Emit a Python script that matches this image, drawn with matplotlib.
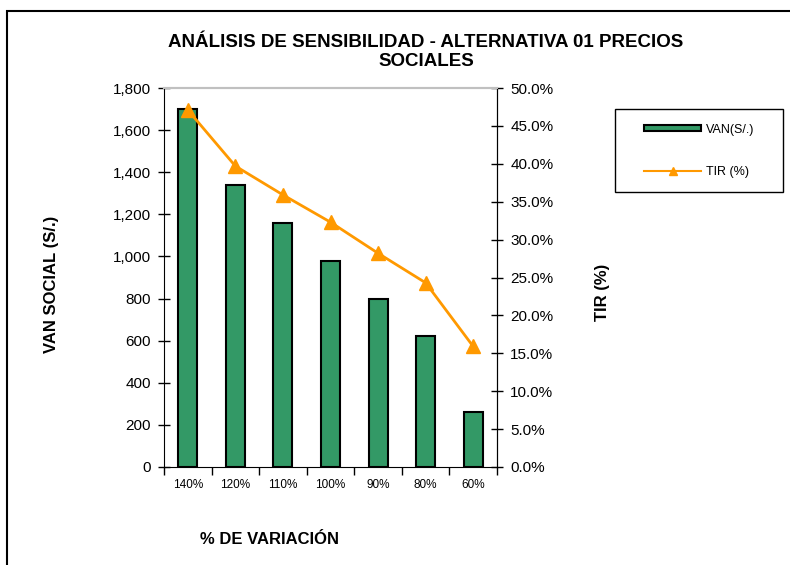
import matplotlib
matplotlib.use("Agg")
import matplotlib.pyplot as plt
from matplotlib.patches import Patch, Rectangle
from matplotlib.lines import Line2D
from matplotlib.ticker import FuncFormatter, MultipleLocator

plt.rcParams['font.family'] = ['Liberation Sans', 'DejaVu Sans']

variacion = ["140%", "120%", "110%", "100%", "90%", "80%", "60%"]
van_social = [1700, 1340, 1160, 980, 800, 620, 260]
tir = [47.1, 39.7, 35.9, 32.3, 28.2, 24.3, 15.9]

GREEN = "#339966"
ORANGE = "#FF9900"

W, H = 790, 565
fig = plt.figure(figsize=(W / 100, H / 100), dpi=100)
ax = fig.add_axes([164 / W, 1 - 467 / H, 333 / W, 379 / H])
ax2 = ax.twinx()

x = list(range(len(variacion)))
ax.bar(x, van_social, width=0.4, color=GREEN, edgecolor="black", linewidth=1.5, zorder=2)
ax2.plot(x, tir, color=ORANGE, linewidth=2, marker="^", markersize=10, zorder=3)

ax.set_xlim(-0.5, len(variacion) - 0.5)
ax.set_ylim(0, 1800)
ax2.set_ylim(0, 50)
ax.yaxis.set_major_locator(MultipleLocator(200))
ax2.yaxis.set_major_locator(MultipleLocator(5))
ax.yaxis.set_major_formatter(FuncFormatter(lambda v, p: f"{v:,.0f}"))
ax2.yaxis.set_major_formatter(FuncFormatter(lambda v, p: f"{v:.1f}%"))

# category ticks sit between the bars
ax.set_xticks([i - 0.5 for i in range(len(variacion) + 1)])
ax.set_xticklabels([])
ax.set_xticks(x, minor=True)
ax.set_xticklabels(variacion, minor=True, fontsize=8.5)
ax.tick_params(axis="x", which="minor", length=0, pad=9)
ax.tick_params(axis="x", which="major", length=6, direction="out", width=1)
ax.tick_params(axis="y", direction="inout", length=9, width=1, labelsize=11, pad=5)
ax2.tick_params(axis="y", direction="inout", length=9, width=1, labelsize=11, pad=5)

for a in (ax, ax2):
    a.spines["top"].set_color("#c0c0c0")
    a.spines["top"].set_linewidth(1.5)
ax2.spines["left"].set_visible(False)
ax2.spines["bottom"].set_visible(False)

ax.set_ylabel("VAN SOCIAL (S/.)", fontsize=12, fontweight="bold")
ax.yaxis.set_label_coords((52 - 164) / 333, (467 - 284) / 379)
ax2.set_ylabel("TIR (%)", fontsize=12, fontweight="bold")
ax2.yaxis.set_label_coords((603 - 164) / 333, (467 - 292) / 379)
ax.set_xlabel("% DE VARIACIÓN", fontsize=12, fontweight="bold")
ax.xaxis.set_label_coords((270 - 164) / 333, (467 - 540) / 379)
ax.xaxis.label.set_va("center")
ax.yaxis.label.set_va("center")
ax2.yaxis.label.set_va("center")

fig.text(426 / W, 1 - 52 / H, "ANÁLISIS DE SENSIBILIDAD - ALTERNATIVA 01 PRECIOS\nSOCIALES",
         ha="center", va="center", fontsize=13.5, fontweight="bold", linespacing=1.1)

# legend box
lax = fig.add_axes([615 / W, 1 - 192 / H, 168 / W, 83 / H])
lax.axis("off")
lax.add_patch(Rectangle((0, 0), 1, 1, transform=lax.transAxes, fill=False,
                        edgecolor="black", linewidth=1, clip_on=False))
handles = [
    Patch(facecolor=GREEN, edgecolor="black", linewidth=1.5),
    Line2D([], [], color=ORANGE, linewidth=1.5, marker="^", markersize=6),
]
lax.legend(handles, ["VAN(S/.)", "TIR (%)"], loc="center", fontsize=9,
           frameon=False, handlelength=4.6, handleheight=0.4, labelspacing=2.4,
           handletextpad=0.35, borderpad=0)

# outer chart frame
fig.patches.append(Rectangle((7 / W, -0.01), 1, 1 - 11 / H + 0.01,
                             transform=fig.transFigure, fill=False,
                             edgecolor="black", linewidth=1.5))

fig.savefig("out.png", dpi=100)
